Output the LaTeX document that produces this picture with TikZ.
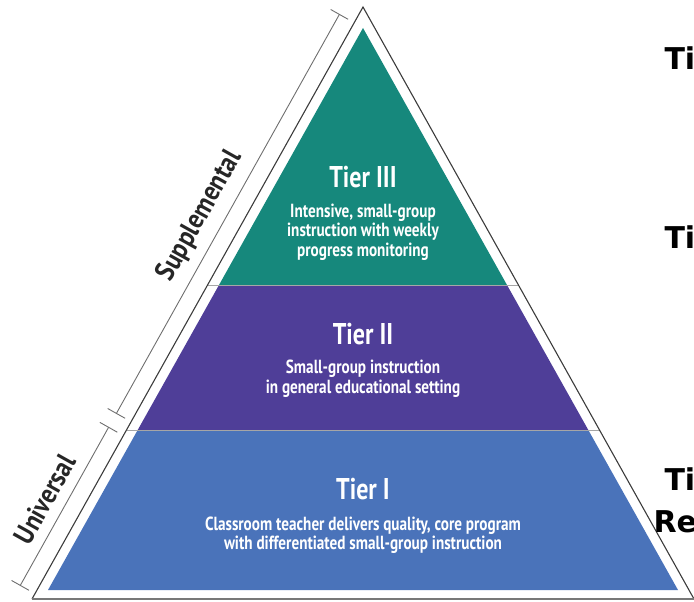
\documentclass[tikz,border=0pt]{standalone}
\usepackage{fontspec}
\newfontfamily\condfont[FakeStretch=0.8]{PT Sans}
\newfontfamily\labelfont[FakeStretch=0.87]{PT Sans}
\newfontfamily\handfont{DejaVu Sans}
\definecolor{tierthree}{RGB}{22,136,124}
\definecolor{tiertwo}{RGB}{79,62,152}
\definecolor{tierone}{RGB}{74,115,186}
\definecolor{rimgray}{RGB}{60,60,60}
\definecolor{basegray}{RGB}{120,120,120}
\definecolor{bracketgray}{RGB}{110,110,110}
\tikzset{
  rim/.style={draw=rimgray, line width=1.1pt},
  floor/.style={draw=basegray, line width=2pt},
  divider/.style={draw=gray!70, line width=0.9pt},
  bracket/.style={draw=bracketgray, line width=0.9pt},
  tiertitle/.style={text=white, font=\condfont\bfseries\fontsize{30}{32}\selectfont, anchor=base},
  tiertext/.style={text=white, font=\condfont\bfseries\fontsize{19}{20}\selectfont, anchor=base},
  sidelabel/.style={text=black!85, font=\labelfont\bfseries\fontsize{28}{30}\selectfont, rotate=60.8},
  margintext/.style={text=black, font=\handfont\bfseries\fontsize{30}{32}\selectfont, anchor=base west}
}
\begin{document}
\begin{tikzpicture}[x=1pt,y=-1pt]
\useasboundingbox (0,0) rectangle (694,602);
\clip (0,0) rectangle (694,602);

% coloured tiers of the pyramid
\fill[tierthree] (363,28) -- (507,285) -- (219,285) -- cycle;
\fill[tiertwo] (219,285) -- (507,285) -- (588.3,430) -- (137.7,430) -- cycle;
\fill[tierone] (137.7,430) -- (588.3,430) -- (678,590) -- (48,590) -- cycle;

% tier dividers running out to the rim
\draw[divider] (207.6,285) -- (518.4,285);
\draw[divider] (126.5,430) -- (599.5,430);

% outer rim and floor
\draw[rim] (32,599) -- (363,7) -- (694,599);
\draw[floor] (32,599) -- (694,599);

% brackets along the left side
\draw[bracket] (339.4,14.4) -- (116.4,413.4);
\draw[bracket] (330.7,9.5) -- (348.1,19.3);
\draw[bracket] (107.7,408.5) -- (125.1,418.3);
\draw[bracket] (108.6,427.3) -- (20.3,585.4);
\draw[bracket] (99.9,422.4) -- (117.3,432.2);
\draw[bracket] (11.6,580.5) -- (29,590.3);

\node[sidelabel] (supp) at (200,216) {Supplemental};
\node[sidelabel] (univ) at (45,499) {Universal};

% tier texts
\node[tiertitle] (t3) at (363,187) {Tier III};
\node[tiertext] (t3a) at (363,217) {Intensive, small-group};
\node[tiertext] (t3b) at (363,236.5) {instruction with weekly};
\node[tiertext] (t3c) at (363,256) {progress monitoring};

\node[tiertitle] (t2) at (363,344) {Tier II};
\node[tiertext] (t2a) at (363,373) {Small-group instruction};
\node[tiertext] (t2b) at (363,393) {in general educational setting};

\node[tiertitle] (t1) at (363,499) {Tier I};
\node[tiertext] (t1a) at (363,530) {Classroom teacher delivers quality, core program};
\node[tiertext] (t1b) at (363,549) {with differentiated small-group instruction};

% text at the right margin
\node[margintext] (m3) at (661,70) {Ti};
\node[margintext] (m2) at (661,248) {Ti};
\node[margintext] (m1) at (661,490) {Ti};
\node[margintext] (m0) at (650,532) {Re};
\end{tikzpicture}
\end{document}
